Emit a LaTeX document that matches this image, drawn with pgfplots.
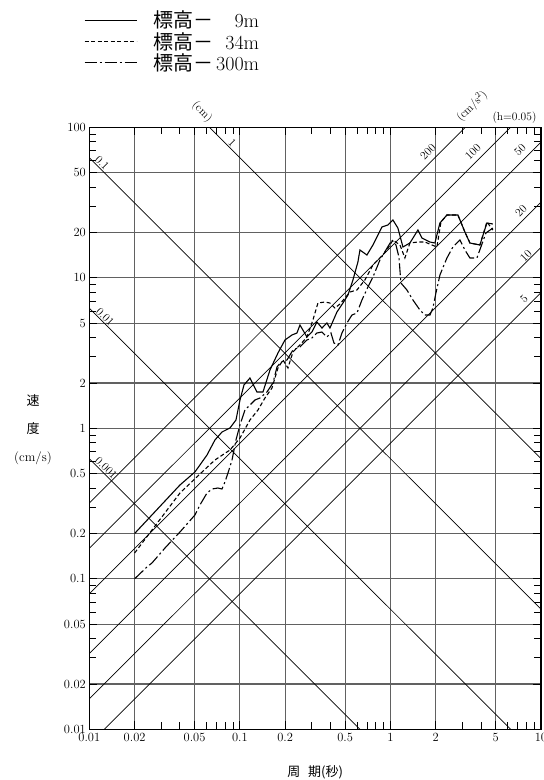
\documentclass[border=0pt]{standalone}
\usepackage{pgfplots}
\pgfplotsset{compat=1.18}
\usepackage{fontspec}
\newfontfamily\cjk{Noto Sans CJK JP}
\begin{document}
\begin{tikzpicture}[x=1pt,y=1pt]
\useasboundingbox (0,0) rectangle (544,780);
\begin{axis}[
 at={(89.3pt,50.7pt)}, anchor=south west,
 xmode=log, ymode=log,
 scale only axis, width=451.7pt, height=602pt,
 xmin=0.01, xmax=10, ymin=0.01, ymax=100,
 xtick={0.01,0.02,0.05,0.1,0.2,0.5,1,2,5,10},
 xticklabels={0.01,0.02,0.05,0.1,0.2,0.5,1,2,5,10},
 ytick={0.01,0.02,0.05,0.1,0.2,0.5,1,2,5,10,20,50,100},
 yticklabels={0.01,0.02,0.05,0.1,0.2,0.5,1,2,5,10,20,50,100},
 minor xtick={0.03,0.04,0.06,0.07,0.08,0.09,0.3,0.4,0.6,0.7,0.8,0.9,3,4,6,7,8,9},
 minor ytick={0.03,0.04,0.06,0.07,0.08,0.09,0.3,0.4,0.6,0.7,0.8,0.9,3,4,6,7,8,9,30,40,60,70,80,90},
 grid=major,
 major grid style={line width=1.1pt, color=black!62},
 axis line style={line width=1.5pt},
 tick style={line width=0.9pt, black},
 major tick length=8pt, minor tick length=7pt,
 tick label style={font=\fontsize{12.5}{14}\selectfont},
 clip mode=individual,
 legend style={at={(-0.012,1.197)}, anchor=north west, draw=none, fill=none, inner sep=0pt, row sep=-1pt, font=\fontsize{20}{21}\selectfont},
 legend cell align=left,
 legend image code/.code={\draw[#1] (0pt,0pt) -- (52pt,0pt);},
]
% displacement lines (cm)
\addplot[forget plot, black, line width=0.7pt] coordinates {(0.01,0.6283) (10,0.0006283)};
\addplot[forget plot, black, line width=0.7pt] coordinates {(0.01,6.283) (10,0.006283)};
\addplot[forget plot, black, line width=0.7pt] coordinates {(0.01,62.83) (10,0.06283)};
\addplot[forget plot, black, line width=0.7pt] coordinates {(0.01,628.3) (10,0.6283)};
% acceleration lines (cm/s^2)
\addplot[forget plot, black, line width=0.7pt] coordinates {(0.01,0.007958) (10,7.958)};
\addplot[forget plot, black, line width=0.7pt] coordinates {(0.01,0.01592) (10,15.92)};
\addplot[forget plot, black, line width=0.7pt] coordinates {(0.01,0.03183) (10,31.83)};
\addplot[forget plot, black, line width=0.7pt] coordinates {(0.01,0.07958) (10,79.58)};
\addplot[forget plot, black, line width=0.7pt] coordinates {(0.01,0.1592) (10,159.2)};
\addplot[forget plot, black, line width=0.7pt] coordinates {(0.01,0.3183) (10,318.3)};
% 9 m
\addplot[black, line width=1.1pt] coordinates {
(0.02,0.20) (0.0400,0.420) (0.0503,0.5125) (0.0605,0.6646) (0.0683,0.836) (0.0761,0.945)
(0.0860,1.005) (0.0942,1.135) (0.1002,1.542) (0.1065,1.940) (0.1167,2.159) (0.1299,1.743)
(0.1424,1.743) (0.1585,2.440) (0.1791,3.165) (0.1993,3.862) (0.2218,4.168) (0.2394,4.298)
(0.2507,4.858) (0.2790,4.043) (0.3011,4.364) (0.3251,5.085) (0.3510,4.638) (0.3787,5.008)
(0.3966,4.638) (0.4415,5.928) (0.4838,6.801) (0.5222,7.687) (0.5636,9.669) (0.6084,12.74)
(0.6273,15.30) (0.6982,14.17) (0.7653,16.52) (0.8261,19.25) (0.8780,21.76) (0.9625,22.43)
(1.039,24.21) (1.121,21.42) (1.211,16.02) (1.347,17.03) (1.523,20.78) (1.619,18.39)
(1.830,17.29) (1.975,17.03) (2.132,23.13) (2.373,26.14) (2.807,26.14) (3.124,20.15)
(3.373,17.03) (3.929,16.52) (4.373,23.13) (4.793,22.78)
};
\addlegendentry{\hspace*{14pt}{\cjk 標高－}\makebox[46pt][r]{9m}}
% 34 m
\addplot[black, line width=1.1pt, dash pattern=on 4pt off 2.5pt] coordinates {
(0.02,0.1484) (0.0400,0.3716) (0.0543,0.497) (0.0683,0.6157) (0.0860,0.7176) (0.1002,0.8618)
(0.1167,1.135) (0.1319,1.323) (0.1468,1.590) (0.1634,1.853) (0.1791,2.516) (0.1934,2.843)
(0.2086,2.516) (0.2253,3.214) (0.2507,3.578) (0.2790,4.043) (0.3057,5.243) (0.3301,6.801)
(0.3674,6.907) (0.3966,6.801) (0.4281,6.300) (0.4622,6.698) (0.4988,7.342) (0.5384,8.047)
(0.5994,8.298) (0.6771,9.669) (0.7653,12.16) (0.8517,13.54) (0.9480,15.30) (1.039,17.83)
(1.157,16.52) (1.248,13.54) (1.347,17.03) (1.523,17.29) (1.695,17.29) (1.886,16.52)
(2.036,16.02) (2.165,23.49) (2.373,26.14) (2.807,26.14) (3.124,20.15) (3.373,17.03)
(3.929,16.52) (4.373,23.49) (4.793,20.78)
};
\addlegendentry{\hspace*{14pt}{\cjk 標高－}\makebox[46pt][r]{34m}}
% 300 m
\addplot[black, line width=1.1pt, dash pattern=on 12pt off 3pt on 2pt off 3pt] coordinates {
(0.02,0.10) (0.02416,0.1198) (0.02608,0.1274) (0.03182,0.1602) (0.0400,0.2046) (0.0503,0.2654)
(0.0543,0.3093) (0.0605,0.3716) (0.0653,0.3951) (0.0715,0.4012) (0.0761,0.3951) (0.0796,0.4398)
(0.0834,0.5047) (0.0887,0.6157) (0.0942,0.836) (0.1002,1.052) (0.1081,1.323) (0.1167,1.428)
(0.1260,1.542) (0.1360,1.590) (0.1514,1.743) (0.1659,2.000) (0.1764,2.555) (0.1875,2.757)
(0.2055,2.843) (0.2253,3.314) (0.2507,3.470) (0.2790,3.862) (0.3011,3.981) (0.3251,4.298)
(0.3510,4.364) (0.3787,4.043) (0.4027,4.298) (0.4216,3.689) (0.4483,3.578) (0.4764,4.298)
(0.5143,5.008) (0.5551,5.659) (0.5994,5.835) (0.6468,7.120) (0.7089,8.687) (0.7653,10.12)
(0.8517,13.13) (0.9335,15.30) (1.023,17.83) (1.088,16.52) (1.139,13.74) (1.174,9.236)
(1.287,8.298) (1.411,7.120) (1.570,6.110) (1.695,5.659) (1.830,5.659) (1.915,6.300)
(2.005,7.925) (2.132,10.44) (2.373,13.54) (2.600,16.02) (2.894,17.83) (3.124,15.30)
(3.373,13.54) (3.753,13.54) (3.990,16.02) (4.307,19.85) (4.793,21.42)
};
\addlegendentry{\hspace*{14pt}{\cjk 標高－}\makebox[46pt][r]{300m}}
% labels on the diagonal lines
\begin{scope}[font=\fontsize{11.5}{12}\selectfont, inner sep=0pt]
\node[rotate=-45] at (rel axis cs:0.0283,0.9403) {0.1};
\node[rotate=-45] at (rel axis cs:0.0350,0.6849) {0.01};
\node[rotate=-45] at (rel axis cs:0.0372,0.4341) {0.001};
\node[rotate=-45] at (rel axis cs:0.3164,0.9738) {1};
\node[rotate=-45] at (rel axis cs:0.2497,1.0254) {(cm)};
\node[rotate=45] at (rel axis cs:0.7500,0.9590) {200};
\node[rotate=45] at (rel axis cs:0.8496,0.9590) {100};
\node[rotate=45] at (rel axis cs:0.9536,0.9623) {50};
\node[rotate=45] at (rel axis cs:0.9559,0.8610) {20};
\node[rotate=45] at (rel axis cs:0.9669,0.7862) {10};
\node[rotate=45] at (rel axis cs:0.9624,0.7148) {5};
\node[rotate=45] at (rel axis cs:0.8470,1.0354) {(cm/s$^2$)};
\node at (rel axis cs:0.9413,1.0155) {(h=0.05)};
\end{scope}
\node[align=center, inner sep=0pt, font=\fontsize{13}{28}\selectfont] at (rel axis cs:-0.1246,0.4972) {{\cjk 速}\\{\cjk 度}\\(cm/s)};
\node[inner sep=0pt, font=\fontsize{13}{15}\selectfont] at (rel axis cs:0.5,-0.0709) {{\cjk 周\hspace{8pt}期(秒)}};
\end{axis}
\end{tikzpicture}
\end{document}
